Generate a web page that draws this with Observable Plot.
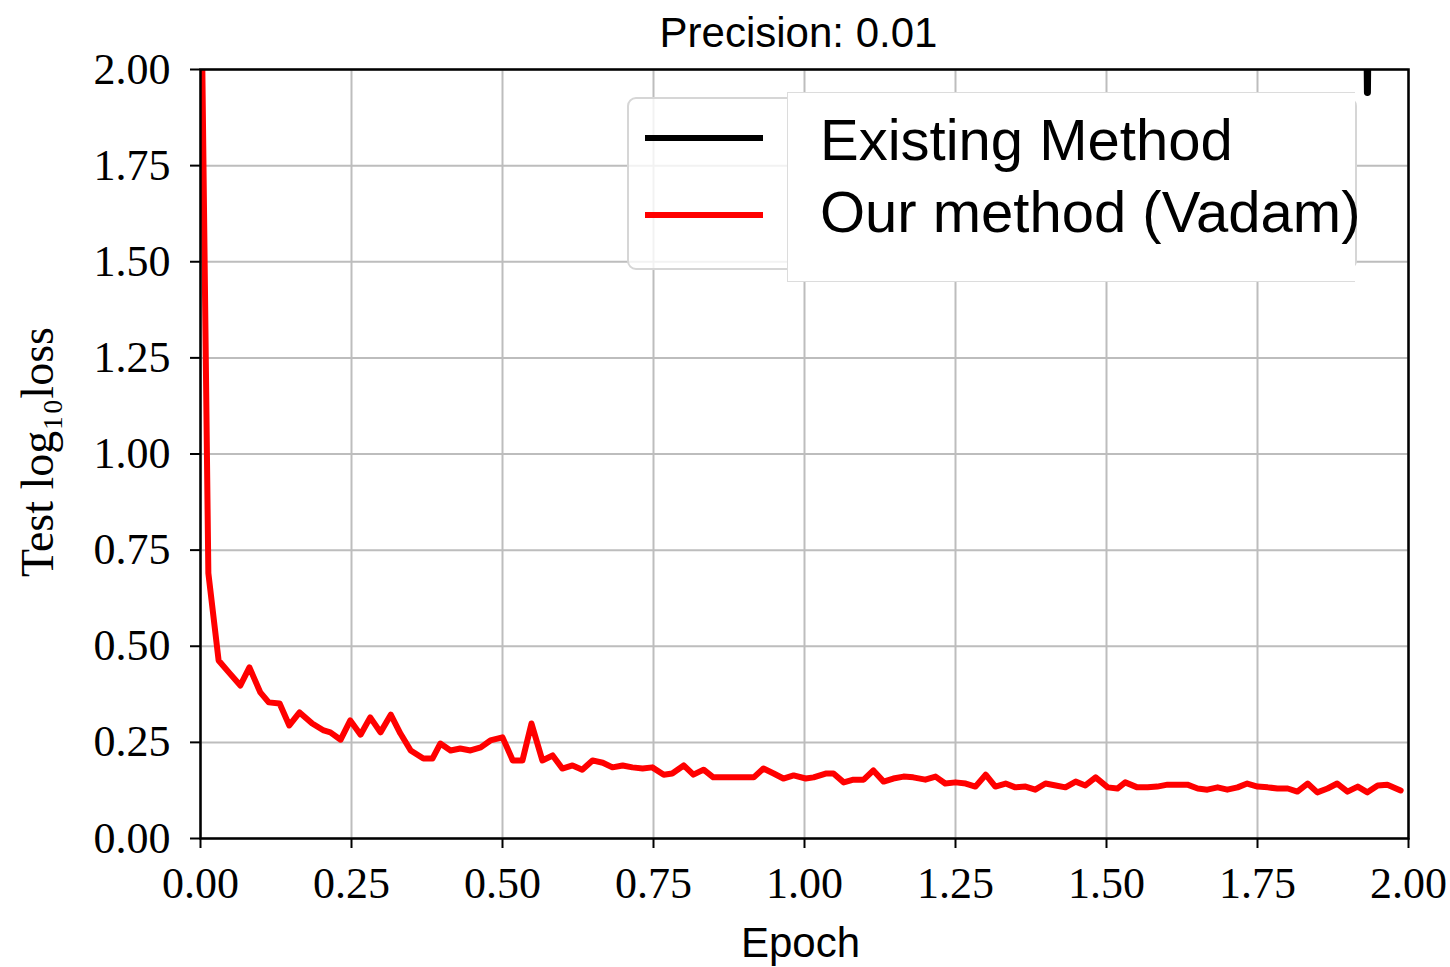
<!DOCTYPE html>
<html>
<head>
<meta charset="utf-8">
<script src="https://cdn.jsdelivr.net/npm/d3@7"></script>
<script src="https://cdn.jsdelivr.net/npm/@observablehq/plot@0.6"></script>
<style>
  html, body { margin: 0; padding: 0; background: #fff; }
  #wrap { position: relative; width: 1450px; height: 967px; overflow: hidden; }
  #wrap svg { display: block; }
  .lframe { position: absolute; left: 627px; top: 97px; width: 726px; height: 169px;
            border: 2px solid #d6d6d6; border-radius: 9px; background: rgba(255,255,255,0.8); }
  .lline { position: absolute; left: 645px; width: 118px; height: 6px; }
  .wbox { position: absolute; left: 787px; top: 92px; width: 567px; height: 188px;
          background: #fff; border: 1px solid #dcdcdc; border-right: none; }
  .ltext { position: absolute; left: 820px; font-family: "Liberation Sans", Arial, sans-serif;
           font-size: 58px; line-height: 58px; color: #000; white-space: nowrap; }
</style>
</head>
<body>
<div id="wrap"></div>
<script>
// ---- data ----
const epochs = [
  0, 0.013, 0.03, 0.048, 0.066, 0.081, 0.099, 0.113, 0.131, 0.147,
  0.164, 0.185, 0.204, 0.215, 0.232, 0.248, 0.265, 0.281, 0.298, 0.315,
  0.331, 0.348, 0.369, 0.384, 0.397, 0.414, 0.43, 0.447, 0.464, 0.48,
  0.5, 0.517, 0.533, 0.548, 0.566, 0.583, 0.599, 0.616, 0.632, 0.649,
  0.666, 0.682, 0.699, 0.715, 0.732, 0.748, 0.767, 0.781, 0.8, 0.816,
  0.833, 0.849, 0.866, 0.886, 0.899, 0.916, 0.932, 0.949, 0.965, 0.982,
  1.002, 1.015, 1.035, 1.048, 1.065, 1.081, 1.098, 1.114, 1.131, 1.147,
  1.164, 1.18, 1.2, 1.217, 1.233, 1.25, 1.267, 1.283, 1.3, 1.316,
  1.333, 1.349, 1.366, 1.382, 1.399, 1.416, 1.432, 1.449, 1.465, 1.482,
  1.502, 1.518, 1.531, 1.551, 1.568, 1.584, 1.601, 1.618, 1.634, 1.651,
  1.667, 1.684, 1.7, 1.717, 1.733, 1.75, 1.767, 1.783, 1.8, 1.816,
  1.833, 1.849, 1.866, 1.882, 1.899, 1.916, 1.932, 1.949, 1.965, 1.987
];
const vadamLoss = [
  2.4, 0.69, 0.463, 0.43, 0.398, 0.445, 0.38, 0.354, 0.351, 0.294,
  0.328, 0.299, 0.281, 0.276, 0.257, 0.307, 0.27, 0.315, 0.276, 0.322,
  0.273, 0.229, 0.208, 0.208, 0.247, 0.229, 0.234, 0.229, 0.237, 0.255,
  0.263, 0.203, 0.203, 0.299, 0.203, 0.216, 0.182, 0.19, 0.179, 0.203,
  0.197, 0.185, 0.19, 0.185, 0.182, 0.185, 0.166, 0.169, 0.19, 0.166,
  0.179, 0.159, 0.159, 0.159, 0.159, 0.159, 0.182, 0.169, 0.156, 0.164,
  0.156, 0.159, 0.169, 0.169, 0.146, 0.153, 0.153, 0.177, 0.148, 0.156,
  0.161, 0.159, 0.153, 0.161, 0.143, 0.146, 0.143, 0.135, 0.166, 0.135,
  0.143, 0.133, 0.135, 0.127, 0.143, 0.138, 0.133, 0.148, 0.138, 0.159,
  0.133, 0.13, 0.146, 0.133, 0.133, 0.135, 0.14, 0.14, 0.14, 0.13,
  0.127, 0.133, 0.127, 0.133, 0.143, 0.135, 0.133, 0.13, 0.13, 0.122,
  0.143, 0.12, 0.13, 0.143, 0.122, 0.135, 0.12, 0.138, 0.14, 0.125
];
// Existing method: off the top of the chart except a brief dip near the right edge
const existingEpochs = [1.928, 1.932, 1.936];
const existingLoss = [2.6, 1.94, 2.6];

const xTicks = [0, 0.25, 0.5, 0.75, 1.0, 1.25, 1.5, 1.75, 2.0];
const yTicks = [0, 0.25, 0.5, 0.75, 1.0, 1.25, 1.5, 1.75, 2.0];
const titleText = "Precision: 0.01";
const xLabel = "Epoch";
const yLabel = "Test log\u2081\u2080loss";
const seriesNames = ["Existing Method", "Our method (Vadam)"];
const seriesColors = ["#000000", "#ff0000"];

// ---- tables ----
const vadam = epochs.map((e, i) => ({epoch: e, loss: vadamLoss[i]}));
const existing = existingEpochs.map((e, i) => ({epoch: e, loss: existingLoss[i]}));

const serif = "'Liberation Serif', 'DejaVu Serif', serif";
const sans = "'Liberation Sans', Arial, sans-serif";

const chart = Plot.plot({
  width: 1450,
  height: 967,
  marginLeft: 200,
  marginRight: 42,
  marginTop: 69,
  marginBottom: 129,
  style: {fontFamily: serif, background: "#fff", color: "#000"},
  x: {domain: [0, 2], ticks: xTicks},
  y: {domain: [0, 2], ticks: yTicks},
  marks: [
    Plot.gridX(xTicks, {stroke: "#bdbdbd", strokeWidth: 2, strokeOpacity: 1}),
    Plot.gridY(yTicks, {stroke: "#bdbdbd", strokeWidth: 2, strokeOpacity: 1}),
    Plot.line(existing, {x: "epoch", y: "loss", stroke: seriesColors[0], strokeWidth: 7, clip: "frame"}),
    Plot.line(vadam, {x: "epoch", y: "loss", stroke: seriesColors[1], strokeWidth: 6, clip: "frame", strokeLinejoin: "round"}),
    Plot.frame({stroke: "#000", strokeWidth: 2.5}),
    Plot.axisX(xTicks, {tickSize: 10, strokeWidth: 2, tickPadding: 18, tickFormat: d3.format(".2f"),
                        fontSize: 44, fontFamily: serif, label: null}),
    Plot.axisY(yTicks, {tickSize: 10, strokeWidth: 2, tickPadding: 20, tickFormat: d3.format(".2f"),
                        fontSize: 44, fontFamily: serif, label: null}),
    Plot.text([titleText], {frameAnchor: "top", dy: -36, dx: -6, fontSize: 42, fontFamily: sans, lineAnchor: "middle"}),
    Plot.text([xLabel], {frameAnchor: "bottom", dy: 105, dx: -4, fontSize: 42, fontFamily: sans, lineAnchor: "middle"}),
    Plot.text([yLabel], {frameAnchor: "left", dx: -162, dy: -2, rotate: -90, textAnchor: "middle",
                         fontSize: 46, fontFamily: serif, lineAnchor: "middle"})
  ]
});

const wrap = document.getElementById("wrap");
wrap.appendChild(chart);

// ---- legend overlay ----
function addDiv(cls, style, text) {
  const d = document.createElement("div");
  d.className = cls;
  Object.assign(d.style, style);
  if (text) d.textContent = text;
  wrap.appendChild(d);
  return d;
}
addDiv("lframe", {});
addDiv("lline", {top: "135px", background: seriesColors[0]});
addDiv("lline", {top: "212px", background: seriesColors[1]});
addDiv("wbox", {});
addDiv("ltext", {top: "111px"}, seriesNames[0]);
addDiv("ltext", {top: "183px"}, seriesNames[1]);
</script>
</body>
</html>
